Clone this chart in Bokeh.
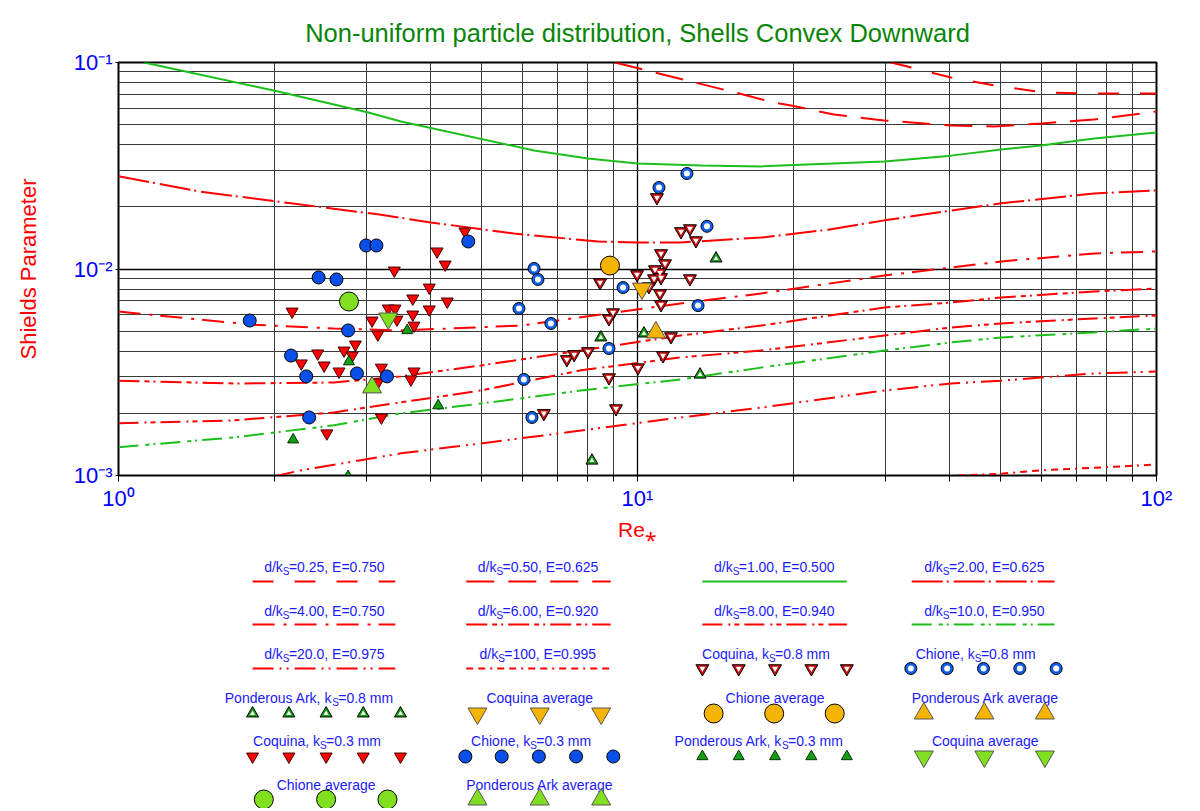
from bokeh.plotting import figure
from bokeh.layouts import column
from bokeh.models import Range1d, FixedTicker
from bokeh.core.properties import value
from bokeh.embed import file_html
from bokeh.resources import INLINE

# ---------------- data ----------------
TITLE = "Non-uniform particle distribution, Shells Convex Downward"
Y_TITLE = "Shields Parameter"
X_TITLE = "Re\u204e"
X_TICKS = [1, 10, 100]
X_TICK_LABELS = ["10\u2070", "10\u00b9", "10\u00b2"]
Y_TICKS = [0.1, 0.01, 0.001]
Y_TICK_LABELS = ["10\u207b\u00b9", "10\u207b\u00b2", "10\u207b\u00b3"]

# theoretical curves (Re*, Shields)
c025_re = [30.8, 40.2, 50.2, 60.7, 75.8, 100]
c025_sh = [0.100, 0.0846, 0.0765, 0.0716, 0.0708, 0.0708]
c050_re = [9.05, 10.25, 12.45, 15.14, 18.32, 19.76, 23.9, 29.85, 40.18, 48.64, 59.92, 75.79, 100]
c050_sh = [0.100, 0.0925, 0.0818, 0.0724, 0.0640, 0.0619, 0.0560, 0.0524, 0.0495, 0.0490, 0.0507, 0.0530, 0.0579]
c100_re = [1.12, 2.03, 3.03, 3.50, 6.32, 8.03, 10.0, 13.3, 17.3, 29.9, 40.2, 50.2, 59.9, 75.8, 100]
c100_sh = [0.100, 0.0724, 0.0573, 0.0518, 0.0375, 0.0343, 0.0324, 0.0317, 0.0314, 0.0332, 0.0354, 0.0379, 0.0396, 0.0429, 0.0458]
c200_re = [1.0, 1.44, 2.15, 3.16, 4.0, 5.78, 8.39, 10.0, 12.1, 17.3, 23.3, 29.9, 40.2, 50.2, 75.8, 100]
c200_sh = [0.0281, 0.0237, 0.0208, 0.0184, 0.0168, 0.01485, 0.01359, 0.01344, 0.01344, 0.0142, 0.0155, 0.0172, 0.0192, 0.0208, 0.0232, 0.0240]
c400_re = [1.0, 1.80, 2.60, 3.50, 5.96, 8.77, 12.1, 17.3, 29.9, 40.2, 50.2, 75.8, 100]
c400_sh = [0.00622, 0.00538, 0.00515, 0.00504, 0.00532, 0.00609, 0.00681, 0.00761, 0.00930, 0.01017, 0.01087, 0.01189, 0.01216]
c600_re = [1.0, 1.67, 2.60, 3.50, 4.99, 7.78, 12.1, 17.3, 29.9, 40.2, 50.2, 75.8, 100]
c600_sh = [0.00288, 0.00279, 0.00282, 0.00302, 0.00341, 0.00403, 0.00476, 0.00532, 0.00651, 0.00688, 0.00728, 0.00778, 0.00804]
c800_re = [1.0, 1.67, 2.60, 3.50, 4.99, 7.78, 12.1, 17.3, 29.9, 40.2, 50.2, 75.8, 100]
c800_sh = [0.00179, 0.00185, 0.00202, 0.00226, 0.00258, 0.00323, 0.00373, 0.00403, 0.00476, 0.00521, 0.00545, 0.00576, 0.00596]
c1000_re = [1.0, 1.67, 2.60, 3.50, 4.99, 7.78, 12.1, 17.3, 29.9, 40.2, 50.2, 75.8, 100]
c1000_sh = [0.00137, 0.00153, 0.00175, 0.00200, 0.00223, 0.00258, 0.00292, 0.00333, 0.00403, 0.00441, 0.00466, 0.00493, 0.00515]
c2000_re = [1.99, 2.25, 3.50, 4.99, 7.78, 12.1, 17.3, 29.9, 40.2, 50.2, 75.8, 100]
c2000_sh = [0.00099, 0.00106, 0.00128, 0.00143, 0.00165, 0.00191, 0.00213, 0.00258, 0.00279, 0.00288, 0.00312, 0.00319]
c10000_re = [41.5, 50.2, 59.9, 75.8, 100]
c10000_sh = [0.00100, 0.00102, 0.00106, 0.00109, 0.00113]

# measurements
coq03_re = [4.65, 4.11, 4.26, 3.40, 3.97, 3.69, 4.30, 2.16, 3.31, 3.41, 3.69, 3.97, 3.08, 3.44, 3.71,
            3.16, 2.86, 2.72, 2.42, 2.82, 2.25, 2.49, 2.66, 3.21, 3.71, 3.66, 3.16, 2.52, 3.21]
coq03_sh = [0.0152, 0.01216, 0.01051, 0.00983, 0.00813, 0.00720, 0.00696, 0.00622, 0.00644, 0.00644,
            0.00602, 0.00637, 0.00563, 0.00569, 0.00532, 0.00482, 0.00431, 0.00403, 0.00390, 0.00381,
            0.00349, 0.00341, 0.00319, 0.00333, 0.00319, 0.00292, 0.00282, 0.00160, 0.00191]
chi03_re = [1.79, 2.15, 2.30, 2.33, 2.43, 2.63, 2.77, 2.88, 3.00, 3.14, 3.29, 4.72]
chi03_sh = [0.00563, 0.00381, 0.00302, 0.00191, 0.00910, 0.00890, 0.00504, 0.00312, 0.0130, 0.0130, 0.00302, 0.01359]
pon03_re = [2.17, 2.77, 2.78, 3.60, 4.13]
pon03_sh = [0.00149, 0.00099, 0.00356, 0.00504, 0.00218]
chi03_avg_re = [2.78]
chi03_avg_sh = [0.00696]
pon03_avg_re = [3.08]
pon03_avg_sh = [0.00267]
coq03_avg_re = [3.31]
coq03_avg_sh = [0.00576]

chi08_re = [12.45, 11.0, 13.61, 6.32, 6.43, 9.38, 5.91, 6.81, 13.08, 8.81, 6.04, 6.26]
chi08_sh = [0.0290, 0.0248, 0.0161, 0.01006, 0.00890, 0.00813, 0.00644, 0.00545, 0.00665, 0.00412, 0.00292, 0.00191]
coq08_re = [10.90, 12.13, 12.62, 12.96, 11.10, 11.30, 10.81, 11.05, 10.76, 11.10, 12.62, 9.98, 8.47, 10.52,
            11.05, 11.10, 8.97, 8.81, 11.60, 11.20, 10.02, 8.81, 9.09, 6.60, 7.31, 7.55, 8.03]
coq08_sh = [0.0222, 0.0152, 0.0157, 0.01374, 0.01189, 0.01063, 0.00994, 0.00962, 0.00899, 0.00910, 0.00899,
            0.00941, 0.00860, 0.00823, 0.00761, 0.00673, 0.00615, 0.00576, 0.00471, 0.00381, 0.00333,
            0.00298, 0.00211, 0.00200, 0.00365, 0.00386, 0.00399]
pon08_re = [14.17, 8.50, 10.29, 13.20, 8.17]
pon08_sh = [0.01124, 0.00466, 0.00487, 0.00308, 0.00118]
chi08_avg_re = [8.85]
chi08_avg_sh = [0.01039]
coq08_avg_re = [10.20]
coq08_avg_sh = [0.00804]
pon08_avg_re = [10.85]
pon08_avg_sh = [0.00493]

# ---------------- styles ----------------
FONT = "Liberation Sans"
RED = "#ff0000"
GREEN_LINE = "#1cbf1c"
BLUE = "#0000ff"
LEG_BLUE = "#1a1aff"
ORANGE = "#f5b400"
LIME = "#80e020"

curves = [
    (c025_re, c025_sh, RED, "21 21", ("d/k", "S", "=0.25, E=0.750")),
    (c050_re, c050_sh, RED, "28 14", ("d/k", "S", "=0.50, E=0.625")),
    (c100_re, c100_sh, GREEN_LINE, "solid", ("d/k", "S", "=1.00, E=0.500")),
    (c200_re, c200_sh, RED, "31 4 2 5", ("d/k", "S", "=2.00, E=0.625")),
    (c400_re, c400_sh, RED, "22 9 3 8", ("d/k", "S", "=4.00, E=0.750")),
    (c600_re, c600_sh, RED, "21 5 5 4 2 5", ("d/k", "S", "=6.00, E=0.920")),
    (c800_re, c800_sh, RED, "20 6 2 4 5 5", ("d/k", "S", "=8.00, E=0.940")),
    (c1000_re, c1000_sh, GREEN_LINE, "20 7 4 4 2 5", ("d/k", "S", "=10.0, E=0.950")),
    (c2000_re, c2000_sh, RED, "21 6 2 5 2 6", ("d/k", "S", "=20.0, E=0.975")),
    (c10000_re, c10000_sh, RED, "7 5 7 5 2 5", ("d/k", "S", "=100, E=0.995")),
]

# (outer marker style, inner white hole size or None)
M = {
    "coq08": (dict(marker="inverted_triangle", size=13, fill_color="#cc0a0a", line_color="black", line_width=1), 6),
    "chi08": (dict(marker="circle", size=12, fill_color="#1060f0", line_color="black", line_width=1), 6),
    "pon08": (dict(marker="triangle", size=12, fill_color="#10a010", line_color="black", line_width=1), 5),
    "coq03": (dict(marker="inverted_triangle", size=12, fill_color=RED, line_color="#400000", line_width=1), None),
    "chi03": (dict(marker="circle", size=13, fill_color="#0a50e8", line_color="black", line_width=1), None),
    "pon03": (dict(marker="triangle", size=11, fill_color="#12a012", line_color="#033003", line_width=1), None),
    "chi03_avg": (dict(marker="circle", size=19, fill_color=LIME, line_color="black", line_width=1), None),
    "pon03_avg": (dict(marker="triangle", size=19, fill_color=LIME, line_color="#555555", line_width=1), None),
    "coq03_avg": (dict(marker="inverted_triangle", size=19, fill_color=LIME, line_color="#555555", line_width=1), None),
    "chi08_avg": (dict(marker="circle", size=19, fill_color=ORANGE, line_color="black", line_width=1), None),
    "coq08_avg": (dict(marker="inverted_triangle", size=19, fill_color=ORANGE, line_color="#555555", line_width=1), None),
    "pon08_avg": (dict(marker="triangle", size=19, fill_color=ORANGE, line_color="#555555", line_width=1), None),
}


def draw_markers(fig, xs, ys, key):
    style, hole = M[key]
    fig.scatter(xs, ys, **style)
    if hole:
        fig.scatter(xs, ys, marker=style["marker"], size=hole, fill_color="white", line_color=None)


# ---------------- main plot ----------------
W = 1200
PH = 548
p = figure(width=W, height=PH, x_axis_type="log", y_axis_type="log",
           x_range=Range1d(1, 100), y_range=Range1d(0.001, 0.1),
           output_backend="svg", toolbar_location=None,
           min_border_left=118, min_border_right=44, min_border_top=62, min_border_bottom=73)
p.background_fill_color = "white"
p.border_fill_color = "white"
p.outline_line_color = "black"
p.outline_line_width = 2

p.title.text = TITLE
p.title.align = "center"
p.title.text_font = FONT
p.title.text_font_size = "25.5px"
p.title.text_font_style = "normal"
p.title.text_color = "#088508"
p.title.standoff = 31

xminor = [m * 10 ** k for k in (0, 1) for m in range(2, 10)]
yminor = [m * 10.0 ** k for k in (-3, -2) for m in range(2, 10)]
p.xaxis.ticker = FixedTicker(ticks=X_TICKS, minor_ticks=xminor)
p.yaxis.ticker = FixedTicker(ticks=Y_TICKS, minor_ticks=yminor)
p.xaxis.major_label_overrides = dict(zip(X_TICKS, X_TICK_LABELS))
p.yaxis.major_label_overrides = dict(zip(Y_TICKS, Y_TICK_LABELS))
for ax in (p.xaxis, p.yaxis):
    ax.major_label_text_font = FONT
    ax.major_label_text_font_size = "22px"
    ax.major_label_text_color = BLUE
    ax.axis_line_color = "black"
    ax.major_tick_line_color = "black"
    ax.minor_tick_line_color = "black"
    ax.major_tick_in = 0
    ax.minor_tick_in = 0
    ax.axis_label_text_font = FONT
    ax.axis_label_text_font_style = "normal"
    ax.axis_label_text_color = RED
p.xaxis.major_tick_out = 6
p.xaxis.minor_tick_out = 6
p.xaxis.major_label_standoff = 4
p.xaxis.axis_label = X_TITLE
p.xaxis.axis_label_text_font_size = "21px"
p.xaxis.axis_label_standoff = 4
p.yaxis.major_tick_out = 3
p.yaxis.minor_tick_out = 0
p.yaxis.major_label_standoff = 3
p.yaxis.axis_label = Y_TITLE
p.yaxis.axis_label_text_font_size = "22px"
p.yaxis.axis_label_standoff = 30

for g in (p.xgrid, p.ygrid):
    g.grid_line_color = "black"
    g.grid_line_width = 1.3
    g.grid_line_alpha = 1
    g.minor_grid_line_color = "#3a3a3a"
    g.minor_grid_line_width = 1

for re_, sh_, col, dash, _lab in curves:
    p.line(re_, sh_, line_color=col, line_width=2, line_dash=dash)

series = [
    (coq03_re, coq03_sh, "coq03"), (chi03_re, chi03_sh, "chi03"), (pon03_re, pon03_sh, "pon03"),
    (coq08_re, coq08_sh, "coq08"), (chi08_re, chi08_sh, "chi08"), (pon08_re, pon08_sh, "pon08"),
    (chi03_avg_re, chi03_avg_sh, "chi03_avg"), (pon03_avg_re, pon03_avg_sh, "pon03_avg"),
    (coq03_avg_re, coq03_avg_sh, "coq03_avg"), (chi08_avg_re, chi08_avg_sh, "chi08_avg"),
    (coq08_avg_re, coq08_avg_sh, "coq08_avg"), (pon08_avg_re, pon08_avg_sh, "pon08_avg"),
]
for xs, ys, key in series:
    draw_markers(p, xs, ys, key)

# ---------------- legend panel ----------------
LH = 808 - PH
p2 = figure(width=W, height=LH, x_range=Range1d(0, 1200), y_range=Range1d(808, PH),
            output_backend="svg", toolbar_location=None, min_border=0,
            x_axis_location=None, y_axis_location=None)
p2.grid.visible = False
p2.outline_line_color = None
p2.background_fill_color = "white"
p2.border_fill_color = "white"

TB = [566, 610, 653, 697, 740, 784]      # text baselines
MR = [581, 624, 668, 713, 756, 799]      # sample rows
COL_LINE = [(155, 320), (402, 569), (675, 842), (917, 1082)]
COL_MARK5 = [[155, 197, 240, 283, 326], [401, 443, 486, 529, 572],
             [675, 717, 759, 801, 842], [916, 958, 1000, 1042, 1084]]
COL_MARK3 = [[168, 240, 311], [415, 487, 558], [688, 758, 828], [931, 1001, 1071]]


def tx(xx, yy, t, align, size="14px"):
    p2.text(x=[xx], y=[yy], text=[t], text_align=align, text_baseline="alphabetic",
            text_font=value(FONT), text_font_size=size, text_color=LEG_BLUE)


def sub_label(xs, yb, pre, sub, post):
    tx(xs, yb, pre, "right")
    tx(xs, yb + 5, sub, "left", "10px")
    tx(xs + 7, yb, post, "left")


# curve entries: (curve index, column, row, subscript anchor)
curve_pos = [(0, 0, 0, 190), (1, 1, 0, 437), (2, 2, 0, 710), (3, 3, 0, 953),
             (4, 0, 1, 190), (5, 1, 1, 437), (6, 2, 1, 710), (7, 3, 1, 953),
             (8, 0, 2, 190), (9, 1, 2, 439)]
for ci, col, row, xs in curve_pos:
    re_, sh_, colr, dash, lab = curves[ci]
    sub_label(xs, TB[row], *lab)
    x0, x1 = COL_LINE[col]
    p2.line([x0, x1], [MR[row], MR[row]], line_color=colr, line_width=2, line_dash=dash)

# marker entries: (key, column, row, label, count)
marker_pos = [
    ("coq08", 2, 2, ("sub", 752, "Coquina, k", "S", "=0.8 mm"), 5),
    ("chi08", 3, 2, ("sub", 990, "Chione, k", "S", "=0.8 mm"), 5),
    ("pon08", 0, 3, ("sub", 247, "Ponderous Ark, k", "S", "=0.8 mm"), 5),
    ("coq08_avg", 1, 3, ("c", 487, "Coquina average"), 3),
    ("chi08_avg", 2, 3, ("c", 759, "Chione average"), 3),
    ("pon08_avg", 3, 3, ("c", 1002, "Ponderous Ark average"), 3),
    ("coq03", 0, 4, ("sub", 233, "Coquina, k", "S", "=0.3 mm"), 5),
    ("chi03", 1, 4, ("sub", 476, "Chione, k", "S", "=0.3 mm"), 5),
    ("pon03", 2, 4, ("sub", 767, "Ponderous Ark, k", "S", "=0.3 mm"), 5),
    ("coq03_avg", 3, 4, ("c", 1002, "Coquina average"), 3),
    ("chi03_avg", 0, 5, ("c", 240, "Chione average"), 3),
    ("pon03_avg", 1, 5, ("c", 487, "Ponderous Ark average"), 3),
]
for key, col, row, lab, n in marker_pos:
    if lab[0] == "sub":
        sub_label(lab[1], TB[row], lab[2], lab[3], lab[4])
    else:
        tx(lab[1], TB[row], lab[2], "center")
    xs = COL_MARK5[col] if n == 5 else COL_MARK3[col]
    draw_markers(p2, xs, [MR[row]] * len(xs), key)

layout = column(p, p2, spacing=0)
open("out.html", "w").write(file_html(layout, INLINE))
